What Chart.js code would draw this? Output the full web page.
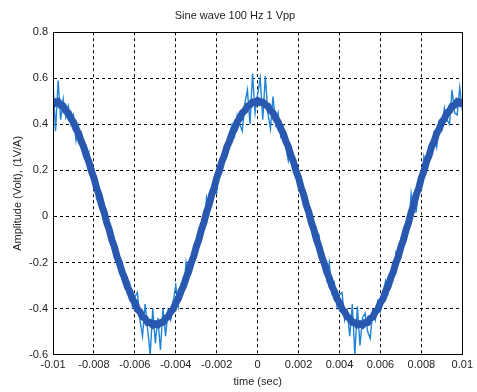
<!DOCTYPE html>
<html>
<head>
<meta charset="utf-8">
<script src="https://cdn.jsdelivr.net/npm/chart.js@4.4.1/dist/chart.umd.min.js"></script>
<style>
  html, body { margin: 0; padding: 0; background: #fff; }
  #wrap { width: 477px; height: 392px; }
</style>
</head>
<body>
<div id="wrap"><canvas id="sine"></canvas></div>
<script>
// --- DATOS ---
// sampled every 0.125 ms from -0.01 s to 0.01 s
const startTime = -0.01;
const sampleStep = 0.000125;

// smoothed trace (the thick dark band)
const bandVolts = [
  .505, .492, .498, .483, .479, .458, .449, .424, .410, .380,
  .361, .326, .303, .264, .238, .197, .168, .124, .094, .049,
  .018, -.027, -.058, -.102, -.132, -.175, -.202, -.242, -.267, -.304,
  -.325, -.358, -.374, -.403, -.414, -.437, -.443, -.461, -.461, -.472,
  -.466, -.471, -.461, -.460, -.443, -.436, -.414, -.402, -.374, -.357,
  -.325, -.303, -.267, -.241, -.202, -.174, -.132, -.101, -.058, -.026,
  .018, .050, .094, .125, .168, .198, .238, .265, .303, .327,
  .361, .381, .410, .426, .450, .460, .479, .484, .497, .495,
  .503, .495, .497, .484, .479, .460, .450, .426, .410, .381,
  .361, .327, .303, .265, .238, .198, .168, .125, .094, .050,
  .018, -.026, -.058, -.101, -.132, -.174, -.202, -.241, -.267, -.303,
  -.325, -.357, -.374, -.402, -.414, -.436, -.443, -.460, -.461, -.471,
  -.466, -.472, -.461, -.461, -.443, -.437, -.414, -.403, -.374, -.358,
  -.325, -.304, -.267, -.242, -.202, -.175, -.132, -.102, -.058, -.027,
  .018, .049, .094, .124, .168, .197, .238, .264, .303, .326,
  .361, .380, .410, .424, .449, .458, .479, .483, .498, .492,
  .505
];

// raw samples with the noise spikes
const rawVolts = [
  .58, .37, .59, .42, .51, .43, .48, .40, .44, .33,
  .39, .30, .33, .24, .28, .17, .20, .08, .12, .02,
  .05, -.06, -.03, -.13, -.10, -.20, -.17, -.27, -.24, -.33,
  -.29, -.39, -.35, -.33, -.45, -.52, -.38, -.49, -.60, -.40,
  -.55, -.44, -.58, -.40, -.52, -.41, -.45, -.37, -.30, -.39,
  -.30, -.33, -.20, -.27, -.18, -.20, -.11, -.13, -.03, -.05,
  .08, .02, .12, .10, .10, .23, .21, .29, .27, .36,
  .40, .35, .44, .40, .37, .49, .55, .40, .62, .45,
  .53, .60, .42, .61, .45, .38, .52, .40, .45, .35,
  .39, .30, .24, .29, .21, .23, .13, .15, .06, .08,
  -.01, .00, -.09, -.07, -.08, -.20, -.17, -.27, -.20, -.33,
  -.29, -.39, -.34, -.33, -.45, -.41, -.52, -.38, -.60, -.39,
  -.56, -.44, -.42, -.50, -.53, -.41, -.45, -.37, -.41, -.33,
  -.28, -.33, -.24, -.27, -.16, -.20, -.10, -.13, -.03, -.06,
  .10, .02, .02, .15, .14, .26, .21, .29, .27, .36,
  .30, .41, .38, .47, .42, .40, .55, .45, .44, .56,
  .46
];

const xTicks = [-0.01, -0.008, -0.006, -0.004, -0.002, 0, 0.002, 0.004, 0.006, 0.008, 0.01];
const xTickLabels = ["-0.01", "-0.008", "-0.006", "-0.004", "-0.002", "0", "0.002", "0.004", "0.006", "0.008", "0.01"];
const yTicks = [-0.6, -0.4, -0.2, 0, 0.2, 0.4, 0.6, 0.8];
const yTickLabels = ["-0.6", "-0.4", "-0.2", "0", "0.2", "0.4", "0.6", "0.8"];

const toPoints = (arr) => arr.map((v, i) => ({ x: startTime + i * sampleStep, y: v }));

// --- MARCO ---
const boxFrame = {
  id: 'boxFrame',
  afterDatasetsDraw(chart) {
    const { ctx, chartArea: a } = chart;
    ctx.save();
    ctx.strokeStyle = '#000';
    ctx.lineWidth = 1;
    ctx.strokeRect(Math.round(a.left) + 0.5, Math.round(a.top) + 0.5,
      Math.round(a.right - a.left), Math.round(a.bottom - a.top));
    ctx.restore();
  }
};

const font = { family: "'Liberation Sans', Arial, sans-serif", size: 11, weight: 'normal' };

new Chart(document.getElementById('sine'), {
  type: 'line',
  data: {
    datasets: [
      { data: toPoints(bandVolts), borderColor: '#2858b0', borderWidth: 7, pointRadius: 0, tension: 0 },
      { data: toPoints(rawVolts), borderColor: '#1f84d8', borderWidth: 1.4, pointRadius: 0, tension: 0 }
    ]
  },
  options: {
    responsive: true,
    maintainAspectRatio: false,
    animation: false,
    layout: { padding: { left: 0, right: 7, top: 0, bottom: 3 } },
    plugins: {
      legend: { display: false },
      tooltip: { enabled: false },
      title: {
        display: true,
        text: 'Sine wave 100 Hz 1 Vpp',
        color: '#222',
        font: font,
        padding: { top: 9, bottom: 10 }
      }
    },
    scales: {
      x: {
        type: 'linear',
        min: -0.01,
        max: 0.01,
        afterBuildTicks: (s) => { s.ticks = xTicks.map(v => ({ value: v })); },
        ticks: {
          color: '#222',
          font: font,
          padding: 4,
          maxRotation: 0,
          autoSkip: false,
          callback: (v, i) => xTickLabels[i]
        },
        grid: { color: '#000', lineWidth: 1, drawTicks: false },
        border: { display: true, color: '#000', dash: [3, 3] },
        title: {
          display: true,
          text: 'time (sec)',
          color: '#222',
          font: font,
          padding: { top: 0, bottom: 0 }
        }
      },
      y: {
        min: -0.6,
        max: 0.8,
        afterBuildTicks: (s) => { s.ticks = yTicks.map(v => ({ value: v })); },
        afterFit: (s) => { s.width = 53; },
        ticks: {
          color: '#222',
          font: font,
          padding: 5,
          autoSkip: false,
          callback: (v, i) => yTickLabels[i]
        },
        grid: { color: '#000', lineWidth: 1, drawTicks: false },
        border: { display: true, color: '#000', dash: [3, 3] },
        title: {
          display: true,
          text: 'Amplitude (Volt), (1V/A)',
          color: '#222',
          font: font,
          padding: { top: 11, bottom: 0 }
        }
      }
    }
  },
  plugins: [boxFrame]
});
</script>
</body>
</html>
